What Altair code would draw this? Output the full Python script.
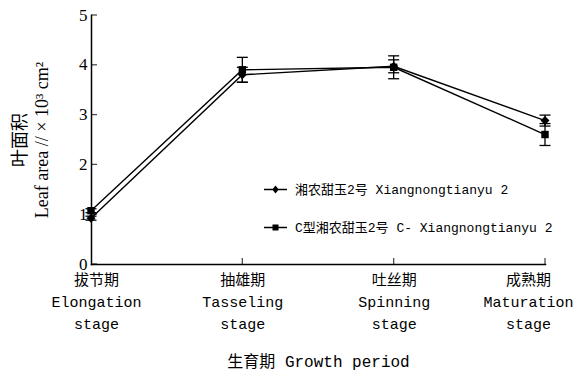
import altair as alt
import pandas as pd

stages = ["拔节期|Elongation|stage", "抽雄期|Tasseling|stage",
          "吐丝期|Spinning|stage", "成熟期|Maturation|stage"]
series_names = ["湘农甜玉2号 Xiangnongtianyu 2", "C型湘农甜玉2号 C- Xiangnongtianyu 2"]
s1_vals = [0.92, 3.80, 3.97, 2.88]
s1_err = [0.04, 0.15, 0.13, 0.11]
s2_vals = [1.07, 3.90, 3.95, 2.60]
s2_err = [0.04, 0.25, 0.23, 0.22]
y_ticks = [0, 1, 2, 3, 4, 5]

rows = []
for name, vals, errs in [(series_names[0], s1_vals, s1_err), (series_names[1], s2_vals, s2_err)]:
    for st, v, e in zip(stages, vals, errs):
        rows.append({"stage": st, "series": name, "value": v, "lo": v - e, "hi": v + e})
df = pd.DataFrame(rows)

FONT_MONO = "Liberation Mono, Noto Sans CJK SC"
FONT_SERIF = "Liberation Serif, Noto Sans CJK SC"

x_enc = alt.X("stage:N", sort=stages,
              scale=alt.Scale(type="point", padding=0),
              axis=alt.Axis(title="生育期 Growth period", labelAngle=0,
                            labelExpr="split(datum.label, '|')",
                            labelFont=FONT_MONO, labelFontSize=15, labelLineHeight=22,
                            labelBaseline="top", labelPadding=8,
                            labelOffset={"condition": [
                                {"test": "datum.value == '成熟期|Maturation|stage'", "value": -17},
                                {"test": "datum.value == '拔节期|Elongation|stage'", "value": 5}],
                                "value": 0},
                            titleFont=FONT_MONO, titleFontSize=16, titleFontWeight="normal",
                            titlePadding=22, ticks=False,
                            domainColor="black", domainWidth=1.5, labelColor="black",
                            titleColor="black"))
y_scale = alt.Scale(domain=[0, 5], nice=False, zero=True)
y_enc = alt.Y("value:Q", scale=y_scale,
              axis=alt.Axis(title=["叶面积", "Leaf area // × 10³ cm²"], values=y_ticks,
                            labelFont=FONT_SERIF, labelFontSize=17, labelPadding=4,
                            titleFont=FONT_SERIF, titleFontSize=18, titleFontWeight="normal",
                            titleLineHeight=22, titlePadding=27, ticks=False, grid=False,
                            domainColor="black", domainWidth=1.5, labelColor="black",
                            titleColor="black"))

base = alt.Chart(df)

lines = base.mark_line(color="black", strokeWidth=1.4).encode(
    x=x_enc, y=y_enc, detail="series:N")

rules = base.mark_rule(color="black", strokeWidth=1.3).encode(
    x=alt.X("stage:N", sort=stages), y=alt.Y("lo:Q", scale=y_scale), y2="hi:Q")
cap_lo = base.mark_tick(color="black", thickness=1.3, size=11, opacity=1).encode(
    x=alt.X("stage:N", sort=stages), y=alt.Y("lo:Q", scale=y_scale))
cap_hi = base.mark_tick(color="black", thickness=1.3, size=11, opacity=1).encode(
    x=alt.X("stage:N", sort=stages), y=alt.Y("hi:Q", scale=y_scale))

points = base.mark_point(filled=True, color="black", opacity=1).encode(
    x=alt.X("stage:N", sort=stages), y=alt.Y("value:Q", scale=y_scale),
    shape=alt.Shape("series:N", sort=series_names,
                    scale=alt.Scale(domain=series_names, range=["diamond", "square"]),
                    legend=None),
    size=alt.Size("series:N", scale=alt.Scale(domain=series_names, range=[80, 55]), legend=None))

legend_layer = base.mark_point(filled=True, color="black", opacity=0).encode(
    x=alt.X("stage:N", sort=stages), y=alt.Y("value:Q", scale=y_scale),
    shape=alt.Shape("series:N", sort=series_names,
                    scale=alt.Scale(domain=series_names,
                                    range=["M-2.3,-0.13L2.3,-0.13L2.3,0.13L-2.3,0.13ZM0,-0.8L0.65,0L0,0.8L-0.65,0Z",
                                           "M-2.3,-0.13L2.3,-0.13L2.3,0.13L-2.3,0.13ZM-0.6,-0.6L0.6,-0.6L0.6,0.6L-0.6,0.6Z"]),
                    legend=alt.Legend(title=None, orient="none", legendX=178, legendY=168,
                                      symbolSize=100, symbolFillColor="black",
                                      symbolStrokeColor="black", symbolStrokeWidth=0,
                                      symbolOpacity=1, labelFont=FONT_MONO, labelFontSize=13,
                                      labelColor="black", labelOffset=13, rowPadding=24,
                                      padding=0, labelLimit=400)))

# inward axis ticks
ytick_df = pd.DataFrame({"stage": [stages[0]] * len(y_ticks), "v": y_ticks})
yticks = alt.Chart(ytick_df).mark_tick(color="black", thickness=1.3, size=6, xOffset=3).encode(
    x=alt.X("stage:N", sort=stages), y=alt.Y("v:Q", scale=y_scale))
xtick_df = pd.DataFrame({"stage": stages[1:], "v": [0] * 3})
xticks = alt.Chart(xtick_df).mark_tick(color="black", thickness=1.3, size=6, orient="vertical",
                                       yOffset=-3).encode(
    x=alt.X("stage:N", sort=stages), y=alt.Y("v:Q", scale=y_scale))

chart = alt.layer(lines, rules, cap_lo, cap_hi, points, legend_layer, yticks, xticks).resolve_scale(
    shape="independent", size="independent"
).properties(
    width=454, height=249,
    autosize=alt.AutoSizeParams(type="none"),
    padding={"left": 91, "top": 15, "right": 29, "bottom": 114},
    background="white"
).configure_view(stroke=None).configure_axis(domainCap="square")

chart.save("out.html", embed_options={"renderer": "svg", "actions": False})
